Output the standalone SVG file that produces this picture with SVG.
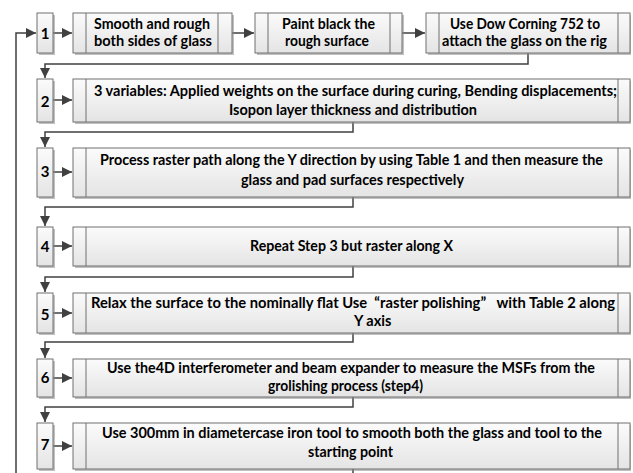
<svg xmlns="http://www.w3.org/2000/svg" width="633" height="473" viewBox="0 0 633 473">
<defs>
<linearGradient id="g" x1="0" y1="0" x2="0" y2="1">
<stop offset="0" stop-color="#fbfbfb"/>
<stop offset="1" stop-color="#e4e4e4"/>
</linearGradient>
<marker id="ah" markerWidth="11" markerHeight="11" refX="10" refY="5.5" orient="auto" markerUnits="userSpaceOnUse">
<path d="M0,0.5 L10,5.5 L0,10.5 Z" fill="#404040"/>
</marker>
<style>
.sh{fill:#8c8c8c;opacity:0.55}
.bx{fill:url(#g);stroke:#707070;stroke-width:1}
.bar{stroke:#707070;stroke-width:1}
.t{font-family:Lato,"Liberation Sans",sans-serif;font-weight:bold;font-size:14.5px;fill:#000}
.n{font-family:Lato,"Liberation Sans",sans-serif;font-weight:bold;font-size:15px;fill:#000;text-anchor:middle}
.c{text-anchor:middle}
.ln{fill:none;stroke:#404040;stroke-width:1.5}
</style>
</defs>

<g id="connectors">
<path class="ln" d="M16,473 V33 H36" marker-end="url(#ah)"/>
<path class="ln" d="M53,33 H72" marker-end="url(#ah)"/>
<path class="ln" d="M232,33 H254" marker-end="url(#ah)"/>
<path class="ln" d="M402,33 H425" marker-end="url(#ah)"/>
<path class="ln" d="M528,53 V64 H45 V78" marker-end="url(#ah)"/>
<path class="ln" d="M53,100 H72" marker-end="url(#ah)"/>
<path class="ln" d="M353,122 V132 H45 V147" marker-end="url(#ah)"/>
<path class="ln" d="M53,172 H72" marker-end="url(#ah)"/>
<path class="ln" d="M353,197 V207 H45 V226" marker-end="url(#ah)"/>
<path class="ln" d="M53,246 H72" marker-end="url(#ah)"/>
<path class="ln" d="M353,266 V277 H45 V292" marker-end="url(#ah)"/>
<path class="ln" d="M53,313 H72" marker-end="url(#ah)"/>
<path class="ln" d="M353,333 V342 H45 V358" marker-end="url(#ah)"/>
<path class="ln" d="M53,378 H72" marker-end="url(#ah)"/>
<path class="ln" d="M353,397 V407 H45 V422" marker-end="url(#ah)"/>
<path class="ln" d="M53,446 H72" marker-end="url(#ah)"/>
<path class="ln" d="M353,469 V473"/>
</g>

<g id="n1">
<rect class="sh" x="39" y="15" width="16" height="40"/>
<rect class="bx" x="37" y="13" width="16" height="40"/>
<text class="n" x="45" y="39">1</text>
</g>
<g id="s1a">
<rect class="sh" x="75" y="15" width="159" height="40"/>
<rect class="bx" x="73" y="13" width="159" height="40"/>
<line class="bar" x1="86" y1="13" x2="86" y2="53"/>
<line class="bar" x1="218" y1="13" x2="218" y2="53"/>
<text class="t c" x="152" y="29" textLength="116" lengthAdjust="spacingAndGlyphs">Smooth and rough</text>
<text class="t c" x="153" y="46" textLength="118" lengthAdjust="spacingAndGlyphs">both  sides of glass</text>
</g>
<g id="s1b">
<rect class="sh" x="257" y="15" width="147" height="40"/>
<rect class="bx" x="255" y="13" width="147" height="40"/>
<line class="bar" x1="268" y1="13" x2="268" y2="53"/>
<line class="bar" x1="390" y1="13" x2="390" y2="53"/>
<text class="t c" x="328.5" y="29" textLength="93" lengthAdjust="spacingAndGlyphs">Paint black the</text>
<text class="t c" x="327" y="46" textLength="84" lengthAdjust="spacingAndGlyphs">rough surface</text>
</g>
<g id="s1c">
<rect class="sh" x="428" y="15" width="203" height="40"/>
<rect class="bx" x="426" y="13" width="204" height="40"/>
<line class="bar" x1="439" y1="13" x2="439" y2="53"/>
<line class="bar" x1="618" y1="13" x2="618" y2="53"/>
<text class="t c" x="525" y="29" textLength="150" lengthAdjust="spacingAndGlyphs">Use Dow Corning 752  to</text>
<text class="t c" x="524.5" y="46" textLength="165" lengthAdjust="spacingAndGlyphs">attach the glass on the rig</text>
</g>

<g id="n2">
<rect class="sh" x="39" y="81" width="16" height="43"/>
<rect class="bx" x="37" y="79" width="16" height="43"/>
<text class="n" x="45" y="107">2</text>
</g>
<g id="s2">
<rect class="sh" x="75" y="81" width="556" height="43"/>
<rect class="bx" x="73" y="79" width="557" height="43"/>
<line class="bar" x1="86" y1="79" x2="86" y2="122"/>
<line class="bar" x1="618" y1="79" x2="618" y2="122"/>
<text class="t c" x="355.5" y="96" textLength="523" lengthAdjust="spacingAndGlyphs">3 variables: Applied weights on the surface during curing, Bending displacements;</text>
<text class="t c" x="353" y="115" textLength="248" lengthAdjust="spacingAndGlyphs">Isopon layer thickness and distribution</text>
</g>

<g id="n3">
<rect class="sh" x="39" y="150" width="16" height="49"/>
<rect class="bx" x="37" y="148" width="16" height="49"/>
<text class="n" x="45" y="177">3</text>
</g>
<g id="s3">
<rect class="sh" x="75" y="150" width="556" height="49"/>
<rect class="bx" x="73" y="148" width="557" height="49"/>
<line class="bar" x1="86" y1="148" x2="86" y2="197"/>
<line class="bar" x1="618" y1="148" x2="618" y2="197"/>
<text class="t c" x="351.5" y="165" textLength="503" lengthAdjust="spacingAndGlyphs">Process  raster path along the Y direction by using Table 1 and then measure the</text>
<text class="t c" x="352.5" y="185" textLength="223" lengthAdjust="spacingAndGlyphs">glass and pad surfaces respectively</text>
</g>

<g id="n4">
<rect class="sh" x="39" y="229" width="16" height="39"/>
<rect class="bx" x="37" y="227" width="16" height="39"/>
<text class="n" x="45" y="252">4</text>
</g>
<g id="s4">
<rect class="sh" x="75" y="229" width="556" height="39"/>
<rect class="bx" x="73" y="227" width="557" height="39"/>
<line class="bar" x1="86" y1="227" x2="86" y2="266"/>
<line class="bar" x1="618" y1="227" x2="618" y2="266"/>
<text class="t c" x="351.5" y="251" textLength="203" lengthAdjust="spacingAndGlyphs">Repeat Step 3 but raster along X</text>
</g>

<g id="n5">
<rect class="sh" x="39" y="295" width="16" height="40"/>
<rect class="bx" x="37" y="293" width="16" height="40"/>
<text class="n" x="45" y="320">5</text>
</g>
<g id="s5">
<rect class="sh" x="75" y="295" width="556" height="40"/>
<rect class="bx" x="73" y="293" width="557" height="40"/>
<line class="bar" x1="86" y1="293" x2="86" y2="333"/>
<line class="bar" x1="618" y1="293" x2="618" y2="333"/>
<text class="t" x="91" y="308" textLength="524" lengthAdjust="spacingAndGlyphs" xml:space="preserve">Relax the surface to the nominally flat Use  “raster polishing”   with Table 2 along</text>
<text class="t" x="354" y="326">Y axis</text>
</g>

<g id="n6">
<rect class="sh" x="39" y="361" width="16" height="38"/>
<rect class="bx" x="37" y="359" width="16" height="38"/>
<text class="n" x="45" y="383">6</text>
</g>
<g id="s6">
<rect class="sh" x="75" y="361" width="556" height="38"/>
<rect class="bx" x="73" y="359" width="557" height="38"/>
<line class="bar" x1="86" y1="359" x2="86" y2="397"/>
<line class="bar" x1="618" y1="359" x2="618" y2="397"/>
<text class="t" x="107" y="373" textLength="488" lengthAdjust="spacingAndGlyphs">Use the4D interferometer and beam expander to measure the MSFs from the</text>
<text class="t" x="268" y="391" textLength="155" lengthAdjust="spacingAndGlyphs">grolishing process (step4)</text>
</g>

<g id="n7">
<rect class="sh" x="39" y="425" width="16" height="46"/>
<rect class="bx" x="37" y="423" width="16" height="46"/>
<text class="n" x="45" y="450">7</text>
</g>
<g id="s7">
<rect class="sh" x="75" y="425" width="556" height="46"/>
<rect class="bx" x="73" y="423" width="557" height="46"/>
<line class="bar" x1="86" y1="423" x2="86" y2="469"/>
<line class="bar" x1="618" y1="423" x2="618" y2="469"/>
<text class="t" x="102" y="438" textLength="500" lengthAdjust="spacingAndGlyphs">Use 300mm in diametercase iron tool to smooth both the glass and tool to the</text>
<text class="t" x="308" y="457" textLength="85" lengthAdjust="spacingAndGlyphs">starting point</text>
</g>
</svg>
